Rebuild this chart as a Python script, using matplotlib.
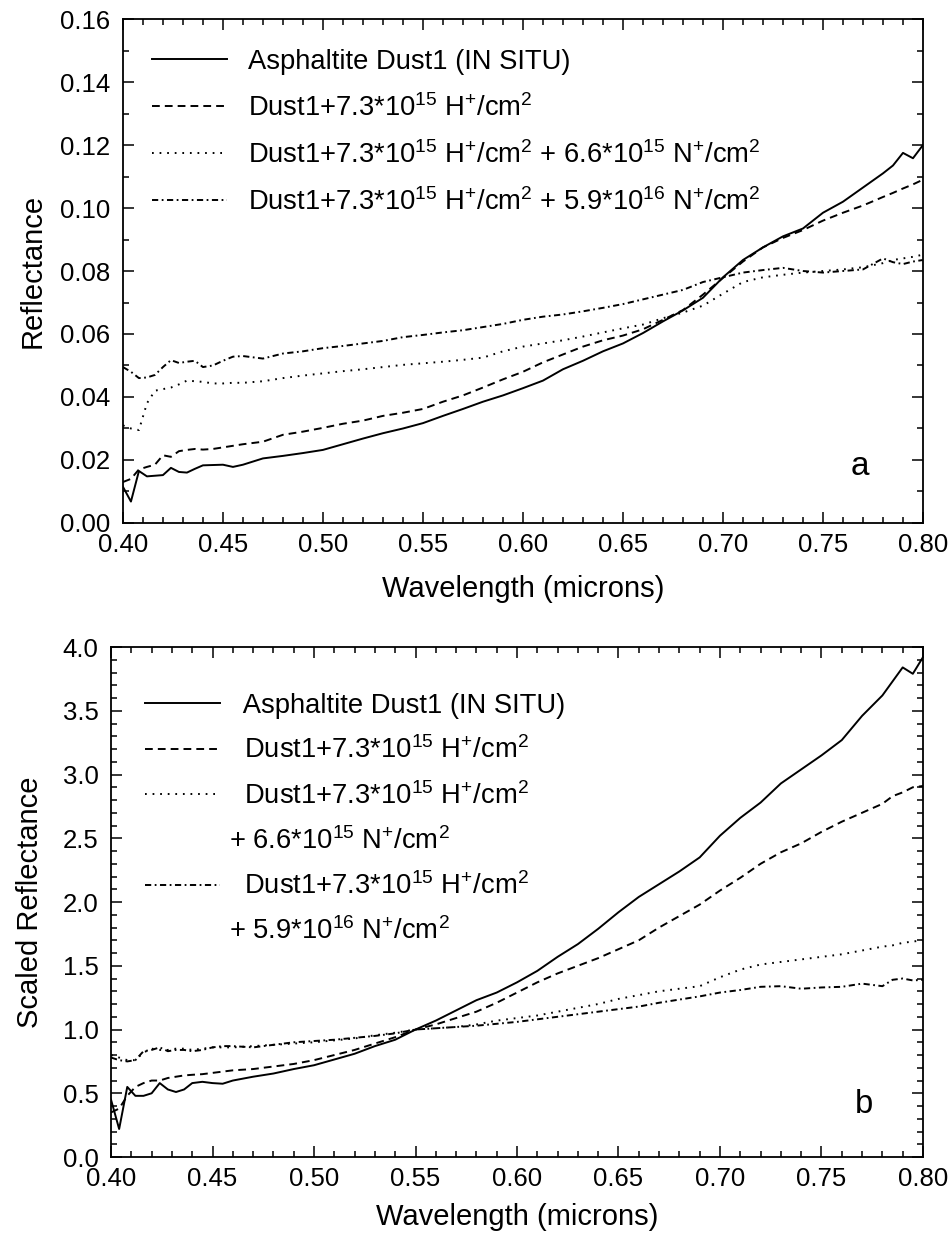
"""Reflectance spectra of asphaltite dust before and after ion irradiation."""

import matplotlib

matplotlib.use("Agg")
import matplotlib.pyplot as plt
from matplotlib.lines import Line2D
from matplotlib.ticker import FormatStrFormatter, MultipleLocator

WAVELENGTH = [
    0.400, 0.404, 0.408, 0.412, 0.416, 0.420, 0.424, 0.428, 0.432, 0.436,
    0.440, 0.445, 0.450, 0.455, 0.460, 0.470, 0.480, 0.490, 0.500, 0.510,
    0.520, 0.530, 0.540, 0.550, 0.560, 0.570, 0.580, 0.590, 0.600, 0.610,
    0.620, 0.630, 0.640, 0.650, 0.660, 0.670, 0.680, 0.690, 0.700, 0.710,
    0.720, 0.730, 0.740, 0.750, 0.760, 0.770, 0.780, 0.785, 0.790, 0.795,
    0.800,
]

# panel a: absolute reflectance
REFL_INSITU = [
    0.0115, 0.0068, 0.0165, 0.0148, 0.0150, 0.0152, 0.0175, 0.0162, 0.0160, 0.0172,
    0.0183, 0.0184, 0.0185, 0.0178, 0.0185, 0.0205, 0.0213, 0.0222, 0.0232, 0.0250,
    0.0268, 0.0285, 0.0300, 0.0317, 0.0340, 0.0362, 0.0385, 0.0405, 0.0428, 0.0452,
    0.0488, 0.0515, 0.0545, 0.0570, 0.0603, 0.0640, 0.0675, 0.0715, 0.0780, 0.0835,
    0.0875, 0.0910, 0.0935, 0.0985, 0.1020, 0.1065, 0.1110, 0.1135, 0.1175, 0.1158,
    0.1200,
]
REFL_H = [
    0.0130, 0.0140, 0.0170, 0.0178, 0.0185, 0.0215, 0.0210, 0.0228, 0.0232, 0.0235,
    0.0233, 0.0235, 0.0240, 0.0245, 0.0250, 0.0258, 0.0280, 0.0290, 0.0302, 0.0315,
    0.0325, 0.0340, 0.0350, 0.0362, 0.0385, 0.0405, 0.0430, 0.0456, 0.0480, 0.0510,
    0.0535, 0.0560, 0.0580, 0.0595, 0.0615, 0.0645, 0.0676, 0.0725, 0.0778, 0.0830,
    0.0875, 0.0905, 0.0930, 0.0960, 0.0985, 0.1008, 0.1035, 0.1048, 0.1062, 0.1075,
    0.1090,
]
REFL_H_N66 = [
    0.0310, 0.0300, 0.0295, 0.0380, 0.0420, 0.0425, 0.0430, 0.0440, 0.0452, 0.0450,
    0.0448, 0.0443, 0.0443, 0.0445, 0.0445, 0.0450, 0.0460, 0.0468, 0.0475, 0.0482,
    0.0488, 0.0495, 0.0502, 0.0507, 0.0512, 0.0518, 0.0525, 0.0545, 0.0560, 0.0570,
    0.0580, 0.0592, 0.0605, 0.0618, 0.0630, 0.0650, 0.0668, 0.0690, 0.0728, 0.0765,
    0.0780, 0.0788, 0.0795, 0.0800, 0.0805, 0.0812, 0.0825, 0.0835, 0.0840, 0.0845,
    0.0852,
]
REFL_H_N59 = [
    0.0495, 0.0480, 0.0460, 0.0462, 0.0470, 0.0495, 0.0517, 0.0508, 0.0512, 0.0515,
    0.0495, 0.0500, 0.0515, 0.0528, 0.0530, 0.0522, 0.0538, 0.0545, 0.0555, 0.0562,
    0.0570, 0.0578, 0.0590, 0.0597, 0.0605, 0.0612, 0.0622, 0.0632, 0.0645, 0.0655,
    0.0662, 0.0672, 0.0683, 0.0695, 0.0710, 0.0725, 0.0740, 0.0765, 0.0780, 0.0795,
    0.0803, 0.0810, 0.0800, 0.0795, 0.0800, 0.0805, 0.0840, 0.0828, 0.0822, 0.0830,
    0.0835,
]

# panel b: reflectance scaled to 1 at 0.55 micron
SCALED_INSITU = [
    0.45, 0.22, 0.55, 0.48, 0.48, 0.50, 0.58, 0.53, 0.51, 0.53,
    0.58, 0.59, 0.58, 0.575, 0.60, 0.63, 0.655, 0.69, 0.72, 0.765,
    0.81, 0.87, 0.92, 1.00, 1.07, 1.15, 1.23, 1.29, 1.37, 1.46,
    1.57, 1.67, 1.79, 1.92, 2.04, 2.14, 2.24, 2.35, 2.52, 2.66,
    2.78, 2.93, 3.04, 3.15, 3.27, 3.46, 3.62, 3.73, 3.84, 3.79,
    3.92,
]
SCALED_H = [
    0.35, 0.38, 0.48, 0.55, 0.58, 0.60, 0.60, 0.62, 0.63, 0.64,
    0.645, 0.65, 0.66, 0.67, 0.68, 0.69, 0.71, 0.73, 0.76, 0.80,
    0.84, 0.89, 0.94, 1.00, 1.04, 1.09, 1.14, 1.21, 1.29, 1.37,
    1.44, 1.50, 1.56, 1.63, 1.70, 1.80, 1.89, 1.98, 2.09, 2.19,
    2.30, 2.39, 2.46, 2.55, 2.63, 2.70, 2.77, 2.83, 2.86, 2.90,
    2.91,
]
SCALED_H_N66 = [
    0.80, 0.78, 0.76, 0.76, 0.82, 0.85, 0.84, 0.84, 0.85, 0.85,
    0.84, 0.85, 0.86, 0.86, 0.86, 0.87, 0.88, 0.89, 0.90, 0.915,
    0.93, 0.955, 0.975, 1.00, 1.01, 1.02, 1.04, 1.07, 1.09, 1.11,
    1.14, 1.17, 1.20, 1.24, 1.27, 1.30, 1.32, 1.34, 1.41, 1.47,
    1.51, 1.53, 1.55, 1.57, 1.59, 1.62, 1.65, 1.66, 1.68, 1.69,
    1.70,
]
SCALED_H_N59 = [
    0.78, 0.76, 0.75, 0.76, 0.83, 0.84, 0.86, 0.83, 0.84, 0.84,
    0.83, 0.84, 0.86, 0.87, 0.87, 0.86, 0.88, 0.90, 0.91, 0.92,
    0.935, 0.95, 0.97, 1.00, 1.01, 1.02, 1.03, 1.045, 1.06, 1.08,
    1.10, 1.12, 1.14, 1.16, 1.18, 1.21, 1.235, 1.26, 1.29, 1.31,
    1.335, 1.34, 1.32, 1.33, 1.335, 1.36, 1.34, 1.39, 1.40, 1.385,
    1.39,
]

LABEL_INSITU = "Asphaltite Dust1 (IN SITU)"
LABEL_H = r"Dust1+7.3*10$^{15}$ H$^{+}$/cm$^{2}$"
LABEL_N66 = r"+ 6.6*10$^{15}$ N$^{+}$/cm$^{2}$"
LABEL_N59 = r"+ 5.9*10$^{16}$ N$^{+}$/cm$^{2}$"

LW = 1.4
STYLES = {
    "solid": "-",
    "dash": (0, (4.0, 2.6)),
    "dot": (0, (0.9, 3.0)),
    "dashdot": (0, (3.2, 1.8, 0.9, 1.8)),
}


def setup_style():
    plt.rcParams.update(
        {
            "font.family": ["Liberation Sans", "DejaVu Sans"],
            "mathtext.fontset": "custom",
            "mathtext.rm": "Liberation Sans",
            "mathtext.it": "Liberation Sans",
            "mathtext.bf": "Liberation Sans",
            "mathtext.default": "regular",
            "font.size": 19,
            "axes.linewidth": 1.3,
            "xtick.direction": "in",
            "ytick.direction": "in",
            "xtick.top": True,
            "ytick.right": True,
            "xtick.major.size": 8,
            "ytick.major.size": 8,
            "xtick.minor.size": 4.3,
            "ytick.minor.size": 4.3,
            "xtick.major.width": 1.1,
            "ytick.major.width": 1.1,
            "xtick.minor.width": 1.1,
            "ytick.minor.width": 1.1,
            "xtick.major.pad": 7,
            "ytick.major.pad": 9,
            "xtick.labelsize": 18.5,
            "ytick.labelsize": 18.5,
        }
    )


def style_axes(ax, ymax, ymajor, yminor, yfmt):
    ax.set_xlim(0.40, 0.80)
    ax.set_ylim(0, ymax)
    ax.xaxis.set_major_locator(MultipleLocator(0.05))
    ax.xaxis.set_minor_locator(MultipleLocator(0.01))
    ax.yaxis.set_major_locator(MultipleLocator(ymajor))
    ax.yaxis.set_minor_locator(MultipleLocator(yminor))
    ax.xaxis.set_major_formatter(FormatStrFormatter("%.2f"))
    ax.yaxis.set_major_formatter(FormatStrFormatter(yfmt))
    ax.set_xlabel("Wavelength (microns)", fontsize=21)


def draw_curves(ax, series):
    for values, style in series:
        ax.plot(WAVELENGTH, values, color="black", linewidth=LW, linestyle=STYLES[style])


def handle(style):
    return Line2D([], [], color="black", lw=LW, ls=STYLES[style])


def main():
    setup_style()
    fig = plt.figure(figsize=(9.53, 12.44), dpi=100)
    ax_a = fig.add_axes([0.129, 0.5796, 0.8395, 0.4051])
    ax_b = fig.add_axes([0.1165, 0.0699, 0.852, 0.41])

    draw_curves(
        ax_a,
        [
            (REFL_INSITU, "solid"),
            (REFL_H, "dash"),
            (REFL_H_N66, "dot"),
            (REFL_H_N59, "dashdot"),
        ],
    )
    style_axes(ax_a, 0.16, 0.02, 0.01, "%.2f")
    ax_a.set_ylabel("Reflectance", fontsize=21)
    ax_a.yaxis.set_label_coords(-0.095, 0.5)
    ax_a.xaxis.set_label_coords(0.5, -0.103)
    ax_a.text(0.921, 0.095, "a", transform=ax_a.transAxes, fontsize=24,
              ha="center", va="baseline")

    labels_a = [
        LABEL_INSITU,
        LABEL_H,
        LABEL_H + " " + LABEL_N66,
        LABEL_H + " " + LABEL_N59,
    ]
    ax_a.legend(
        [handle("solid"), handle("dash"), handle("dot"), handle("dashdot")],
        labels_a, loc="upper left", bbox_to_anchor=(0.036, 0.941),
        frameon=False, borderpad=0, borderaxespad=0, handlelength=2.75,
        handletextpad=0.75, labelspacing=0.70, fontsize=19.7,
    )

    draw_curves(
        ax_b,
        [
            (SCALED_INSITU, "solid"),
            (SCALED_H, "dash"),
            (SCALED_H_N66, "dot"),
            (SCALED_H_N59, "dashdot"),
        ],
    )
    style_axes(ax_b, 4.0, 0.5, 0.1, "%.1f")
    ax_b.set_ylabel("Scaled Reflectance", fontsize=21)
    ax_b.yaxis.set_label_coords(-0.082, 0.5)
    ax_b.xaxis.set_label_coords(0.5, -0.090)
    ax_b.text(0.927, 0.086, "b", transform=ax_b.transAxes, fontsize=23.5,
              ha="center", va="baseline")

    # continuation lines sit a little left of the main label text
    blank = Line2D([], [], color="none")
    handles_b = [handle("solid"), handle("dash"), handle("dot"), blank,
                 handle("dashdot"), blank]
    labels_b = [
        "  " + LABEL_INSITU, "  " + LABEL_H, "  " + LABEL_H,
        LABEL_N66, "  " + LABEL_H, LABEL_N59,
    ]
    ax_b.legend(
        handles_b, labels_b, loc="upper left", bbox_to_anchor=(0.042, 0.910),
        frameon=False, borderpad=0, borderaxespad=0, handlelength=2.75,
        handletextpad=0.32, labelspacing=0.64, fontsize=19.7,
    )

    fig.savefig("out.png", dpi=100)


if __name__ == "__main__":
    main()
